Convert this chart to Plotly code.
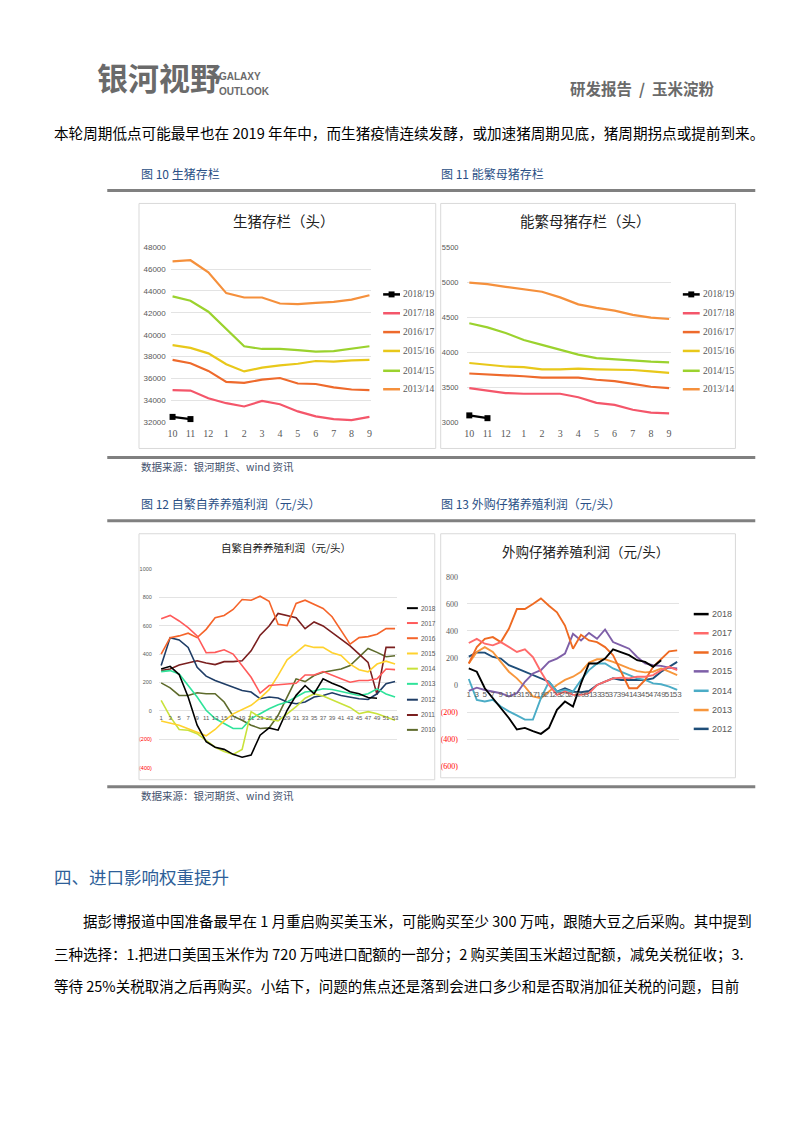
import plotly.graph_objects as go

# page is rendered inside a body with an 8px margin
OFF = 8
W, H = 786, 1117


def fx(px):
    return (px - OFF) / W


def fy(py):
    return 1 - (py - OFF) / H


CJK = "Noto Sans CJK SC"

# ---------------- Chart 1: 生猪存栏（头） ----------------
months = ["10", "11", "12", "1", "2", "3", "4", "5", "6", "7", "8", "9"]
hog_1819 = [32500, 32300, None, None, None, None, None, None, None, None, None, None]
hog_1718 = [34950, 34900, 34200, 33750, 33450, 33950, 33650, 33000, 32550, 32300, 32200, 32500]
hog_1617 = [37700, 37400, 36700, 35700, 35600, 35900, 36050, 35550, 35500, 35200, 35000, 34950]
hog_1516 = [39050, 38800, 38300, 37300, 36650, 37000, 37200, 37350, 37600, 37550, 37650, 37700]
hog_1415 = [43500, 43100, 42100, 40500, 38950, 38700, 38700, 38600, 38450, 38500, 38700, 38950]
hog_1314 = [46700, 46800, 45700, 43800, 43400, 43400, 42850, 42800, 42900, 43000, 43200, 43600]

# ---------------- Chart 2: 能繁母猪存栏（头） ----------------
sow_1819 = [3100, 3060, None, None, None, None, None, None, None, None, None, None]
sow_1718 = [3490, 3460, 3420, 3410, 3410, 3410, 3360, 3280, 3250, 3180, 3140, 3130]
sow_1617 = [3700, 3690, 3670, 3660, 3640, 3640, 3640, 3610, 3590, 3550, 3510, 3490]
sow_1516 = [3850, 3820, 3800, 3790, 3760, 3760, 3770, 3760, 3760, 3750, 3730, 3710]
sow_1415 = [4420, 4360, 4280, 4180, 4110, 4040, 3970, 3920, 3900, 3880, 3870, 3860]
sow_1314 = [5000, 4980, 4940, 4910, 4870, 4790, 4690, 4640, 4600, 4540, 4500, 4480]

season_names = ["2018/19", "2017/18", "2016/17", "2015/16", "2014/15", "2013/14"]
season_colors = ["#000000", "#F4566A", "#EE6A2C", "#E8C81A", "#9BD22E", "#F5903C"]

# ---------------- Chart 3: 自繁自养养殖利润（元/头） weekly (odd weeks) ----------------
weeks = [1, 3, 5, 7, 9, 11, 13, 15, 17, 19, 21, 23, 25, 27, 29, 31, 33, 35, 37, 39, 41, 43, 45, 47, 49, 51, 53]
self_2018 = [295, 314, 256, 98, -100, -216, -255, -270, -305, -325, -310, -170, -119, -135, 5, 110, 179, 121, 226, 195, 170, 135, 121, 95, 90, None, None]
self_2017 = [649, 672, 633, 586, 528, 410, 412, 430, 400, 319, 237, 126, 179, 184, 191, 195, 253, 253, 277, 249, 226, 202, 214, 214, 226, 295, 291]
self_2016 = [400, 516, 528, 547, 516, 574, 656, 672, 714, 784, 779, 807, 772, 609, 600, 756, 779, 749, 721, 663, 563, 470, 516, 523, 540, 579, 579]
self_2015 = [-70, -85, -100, -125, -150, -175, -130, -70, -20, 10, 40, 90, 150, 250, 360, 410, 463, 447, 447, 410, 390, 330, 290, 275, 330, 350, 330]
self_2014 = [74, -40, -130, -135, -160, -210, -255, -285, -305, -270, -5, -45, -60, -70, -20, 30, 90, 121, 105, 80, 50, 25, -19, -5, -20, -40, -65]
self_2013 = [277, 284, 260, 179, 98, 5, -53, -88, -123, -123, -53, -19, 16, 44, 63, 98, 133, 140, 156, 151, 137, 128, 109, 121, 156, 120, 98]
self_2012 = [320, 516, 500, 447, 307, 245, 214, 191, 167, 144, 133, 86, 98, 91, 63, 51, 63, 98, 109, 128, 109, 98, 86, 81, 121, 191, 207]
self_2011 = [284, 295, 323, 337, 353, 337, 326, 347, 347, 353, 423, 533, 598, 686, 672, 656, 579, 626, 598, 551, 509, 458, 400, 342, 115, 447, 447]
self_2010 = [198, 163, 109, 109, 128, 121, 121, 63, -37, -65, -100, -123, -119, -30, 98, 226, 207, 249, 272, 284, 295, 319, 377, 440, 412, 381, 388]
self_names = ["2018", "2017", "2016", "2015", "2014", "2013", "2012", "2011", "2010"]
self_colors = ["#000000", "#FF5A5A", "#F5642A", "#FFD22E", "#C9E23A", "#2FE39A", "#1F3D66", "#7A1F1F", "#5E6B2C"]

# ---------------- Chart 4: 外购仔猪养殖利润（元/头） ----------------
buy_2018 = [122, 98, -24, -98, -171, -244, -329, -317, -341, -361, -317, -183, -122, -159, 12, 159, 159, 195, 263, 244, 220, 183, 171, 134, 183, None, None]
buy_2017 = [310, 341, 305, 293, 317, 280, 244, 263, 207, 98, 0, -73, -49, -73, -73, -61, 0, 24, 49, 54, 49, 61, 61, 73, 110, 134, 110]
buy_2016 = [159, 280, 341, 354, 317, 415, 561, 561, 598, 640, 585, 537, 439, 268, 371, 329, 317, 280, 220, 98, -24, -24, 37, 134, 195, 249, 256]
buy_2015 = [-44, -20, -37, -49, -61, -85, -61, 24, 85, 110, 171, 195, 232, 378, 329, 385, 341, 410, 317, 293, 268, 207, 159, 146, 141, 127, 122]
buy_2014 = [44, -110, -122, -110, -159, -195, -224, -256, -256, -98, 24, -49, -37, -49, 37, 110, 159, 159, 122, 98, 73, 49, 37, 12, 5, -12, -37]
buy_2013 = [159, 244, 280, 244, 171, 98, 49, -12, -85, -98, -49, 0, 37, 61, 98, 166, 190, 190, 171, 146, 122, 102, 93, 98, 122, 98, 73]
buy_2012 = [210, 240, 239, 207, 195, 146, 122, 98, 73, 49, 24, -49, -24, -49, -54, -44, 0, 24, 49, 37, 37, 37, 37, 49, 98, 134, 171]
buy_names = ["2018", "2017", "2016", "2015", "2014", "2013", "2012"]
buy_colors = ["#000000", "#FF6A6A", "#EE6A22", "#7E5FA8", "#4BACC6", "#F7963C", "#1F4E79"]

fig = go.Figure()

hog_series = [hog_1819, hog_1718, hog_1617, hog_1516, hog_1415, hog_1314]
for name, col, vals in zip(season_names, season_colors, hog_series):
    is_cur = name == "2018/19"
    fig.add_trace(go.Scatter(
        x=months, y=vals, xaxis="x", yaxis="y", name=name,
        mode="lines+markers" if is_cur else "lines",
        line=dict(color=col, width=2.2),
        marker=dict(symbol="square", size=6, color=col),
        cliponaxis=False, showlegend=False))

sow_series = [sow_1819, sow_1718, sow_1617, sow_1516, sow_1415, sow_1314]
for name, col, vals in zip(season_names, season_colors, sow_series):
    is_cur = name == "2018/19"
    fig.add_trace(go.Scatter(
        x=months, y=vals, xaxis="x2", yaxis="y2", name=name,
        mode="lines+markers" if is_cur else "lines",
        line=dict(color=col, width=2.2),
        marker=dict(symbol="square", size=6, color=col),
        cliponaxis=False, showlegend=False))

self_series = [self_2018, self_2017, self_2016, self_2015, self_2014, self_2013, self_2012, self_2011, self_2010]
for name, col, vals in reversed(list(zip(self_names, self_colors, self_series))):
    fig.add_trace(go.Scatter(
        x=weeks, y=vals, xaxis="x3", yaxis="y3", name=name, mode="lines",
        line=dict(color=col, width=1.6), showlegend=False))

buy_series = [buy_2018, buy_2017, buy_2016, buy_2015, buy_2014, buy_2013, buy_2012]
for name, col, vals in reversed(list(zip(buy_names, buy_colors, buy_series))):
    fig.add_trace(go.Scatter(
        x=weeks, y=vals, xaxis="x4", yaxis="y4", name=name, mode="lines",
        line=dict(color=col, width=1.9), showlegend=False))

GRID = "#E3E3E3"
TICK = "#595959"

week_labels = [str(w) for w in weeks]


def neg_label(v):
    if v < 0:
        return "<span style='color:#FF0000'>(%d)</span>" % (-v)
    return str(v)


y3_vals = [-400, -200, 0, 200, 400, 600, 800, 1000]
y4_vals = [-600, -400, -200, 0, 200, 400, 600, 800]

fig.update_layout(
    width=W, height=H, margin=dict(l=0, r=0, t=0, b=0),
    paper_bgcolor="white", plot_bgcolor="rgba(0,0,0,0)",
    showlegend=False,
    xaxis=dict(domain=[fx(169), fx(371)], anchor="y", type="category",
               range=[-0.1, 11.1], showgrid=False, zeroline=False, showline=False,
               ticks="", tickfont=dict(family="Liberation Serif", size=10, color=TICK),
               ticklabelstandoff=4, tickangle=0),
    yaxis=dict(domain=[fy(421.7), fy(245)], anchor="x", range=[32000, 48000], dtick=2000,
               tickformat="d",
               gridcolor=GRID, zeroline=False, showline=False, ticks="",
               tickfont=dict(family="Liberation Sans", size=8, color=TICK),
               ticklabelstandoff=4),
    xaxis2=dict(domain=[fx(468), fx(673)], anchor="y2", type="category",
                range=[-0.1, 11.1], showgrid=False, zeroline=False, showline=False,
                ticks="", tickfont=dict(family="Liberation Serif", size=10, color=TICK),
                ticklabelstandoff=4, tickangle=0),
    yaxis2=dict(domain=[fy(421.7), fy(245.7)], anchor="x2", range=[3000, 5500], dtick=500,
                tickformat="d",
                gridcolor=GRID, zeroline=False, showline=False, ticks="",
                tickfont=dict(family="Liberation Sans", size=7.5, color=TICK),
                ticklabelstandoff=8),
    xaxis3=dict(domain=[fx(157), fx(397)], anchor="free", position=fy(712.3),
                range=[0.49, 53.44], tickmode="array", tickvals=weeks, ticktext=week_labels,
                showgrid=False, zeroline=False, showline=False, ticks="", tickangle=0,
                tickfont=dict(family="Liberation Sans", size=6, color=TICK),
                ticklabelstandoff=2),
    yaxis3=dict(domain=[fy(770), fy(569.3)], anchor="x3", range=[-400, 1000],
                tickmode="array", tickvals=y3_vals, ticktext=[neg_label(v) for v in y3_vals],
                gridcolor=GRID, zeroline=False, showline=False, ticks="",
                tickfont=dict(family="Liberation Sans Narrow, Liberation Sans", size=5.5, color=TICK),
                ticklabelstandoff=6),
    xaxis4=dict(domain=[fx(467.5), fx(681.5)], anchor="free", position=fy(686.7),
                range=[0.554, 53.54], tickmode="array", tickvals=weeks, ticktext=week_labels,
                showgrid=False, zeroline=False, showline=False, ticks="", tickangle=0,
                tickfont=dict(family="Liberation Sans Narrow, Liberation Sans", size=8, color=TICK),
                ticklabelstandoff=3),
    yaxis4=dict(domain=[fy(768.3), fy(577.3)], anchor="x4", range=[-600, 800],
                tickmode="array", tickvals=y4_vals, ticktext=[neg_label(v) for v in y4_vals],
                gridcolor=GRID, zeroline=False, showline=False, ticks="",
                tickfont=dict(family="Liberation Serif", size=8, color=TICK),
                ticklabelstandoff=8),
)

shapes = []
annotations = []


def text(px, py, s, size, color="#000000", family=CJK, anchor="left", weight="normal"):
    dy = 0.22 * size if family == CJK else 0.0
    annotations.append(dict(
        x=fx(px), y=fy(py - dy), xref="paper", yref="paper", text=s, showarrow=False,
        xanchor=anchor, yanchor="middle", borderpad=0,
        font=dict(family=family, size=size, color=color, weight=weight)))


def hline(x0, x1, py, color, width):
    shapes.append(dict(type="line", xref="paper", yref="paper",
                       x0=fx(x0), x1=fx(x1), y0=fy(py), y1=fy(py),
                       line=dict(color=color, width=width)))


def frame(x0, y0, x1, y1):
    shapes.append(dict(type="rect", xref="paper", yref="paper",
                       x0=fx(x0), x1=fx(x1), y0=fy(y1), y1=fy(y0),
                       line=dict(color="#D9D9D9", width=1), fillcolor="rgba(0,0,0,0)"))


NB = "\u00a0"

# Header
text(94, 80, "银河视野", 31, "#6A6A6A", weight="bold")
text(217, 73, "GALAXY", 10, "#6A6A6A", family="Liberation Sans Narrow, Liberation Sans", weight="bold")
text(217, 88, "OUTLOOK", 10, "#6A6A6A", family="Liberation Sans Narrow, Liberation Sans", weight="bold")
text(718, 88, "研发报告" + NB * 2 + "/" + NB * 2 + "玉米淀粉", 15.5, "#6A6A6A", anchor="right", weight="bold")

# Body line
text(50, 133, "本轮周期低点可能最早也在 2019 年年中，而生猪疫情连续发酵，或加速猪周期见底，猪周期拐点或提前到来。", 14.6)

# Captions row 1
CAP = "#2A4F86"
text(138, 173, "图 10 生猪存栏", 12, CAP)
text(440, 173, "图 11 能繁母猪存栏", 12, CAP)
hline(105, 758, 188, "#808080", 3)

frame(137, 201, 436, 448)
frame(441, 201, 738, 448)
text(283, 221.5, "生猪存栏（头）", 14.5, "#222222", anchor="center")
text(587, 221.5, "能繁母猪存栏（头）", 14.5, "#222222", anchor="center")

hline(105, 758, 457, "#808080", 3)
text(138, 468, "数据来源：银河期货、wind 资讯", 10.5, "#44526E")

text(138, 506, "图 12 自繁自养养殖利润（元/头）", 12, CAP)
text(440, 506, "图 13 外购仔猪养殖利润（元/头）", 12, CAP)
hline(105, 758, 521, "#808080", 3)

frame(137, 534, 435, 782)
frame(441, 534, 738, 780)
text(285, 550.5, "自繁自养养殖利润（元/头）", 10.5, "#222222", anchor="center")
text(587, 554, "外购仔猪养殖利润（元/头）", 13.5, "#222222", anchor="center")

hline(105, 758, 789, "#808080", 3)
text(138, 800, "数据来源：银河期货、wind 资讯", 10.5, "#44526E")

# Section heading and paragraph
text(50, 883, "四、进口影响权重提升", 17.5, "#2E5F99")
text(80, 927, "据彭博报道中国准备最早在 1 月重启购买美玉米，可能购买至少 300 万吨，跟随大豆之后采购。其中提到", 14.5)
text(50, 960, "三种选择：1.把进口美国玉米作为 720 万吨进口配额的一部分；2 购买美国玉米超过配额，减免关税征收；3.", 14.5)
text(50, 993, "等待 25%关税取消之后再购买。小结下，问题的焦点还是落到会进口多少和是否取消加征关税的问题，目前", 14.5)

# Legends (custom)
leg_y6 = [292.7, 311.7, 330.7, 349.7, 369.7, 388.3]
for (lx0, lx1, tx) in [(383, 400, 402), (685, 702, 704)]:
    for name, col, yy in zip(season_names, season_colors, leg_y6):
        hline(lx0, lx1, yy, col, 2.5)
        if name == "2018/19":
            cx = (lx0 + lx1) / 2
            shapes.append(dict(type="rect", xref="paper", yref="paper",
                               x0=fx(cx - 3), x1=fx(cx + 3), y0=fy(yy + 3), y1=fy(yy - 3),
                               fillcolor=col, line=dict(width=0)))
        text(tx, yy, name, 9.5, "#595959", family="Liberation Serif")

leg_y9 = [609, 624, 639.3, 654.7, 670, 685.3, 701.3, 716.7, 731.7]
for name, col, yy in zip(self_names, self_colors, leg_y9):
    hline(407, 418, yy, col, 2)
    text(420, yy, name, 6.5, "#595959", family="Liberation Sans Narrow, Liberation Sans")

leg_y7 = [615, 634.3, 653.7, 672.7, 692.3, 711.7, 730.7]
for name, col, yy in zip(buy_names, buy_colors, leg_y7):
    hline(696, 711, yy, col, 2.5)
    text(713, yy, name, 9, "#595959", family="Liberation Sans Narrow, Liberation Sans")

fig.update_layout(shapes=shapes, annotations=annotations)

fig.write_html("out.html")
